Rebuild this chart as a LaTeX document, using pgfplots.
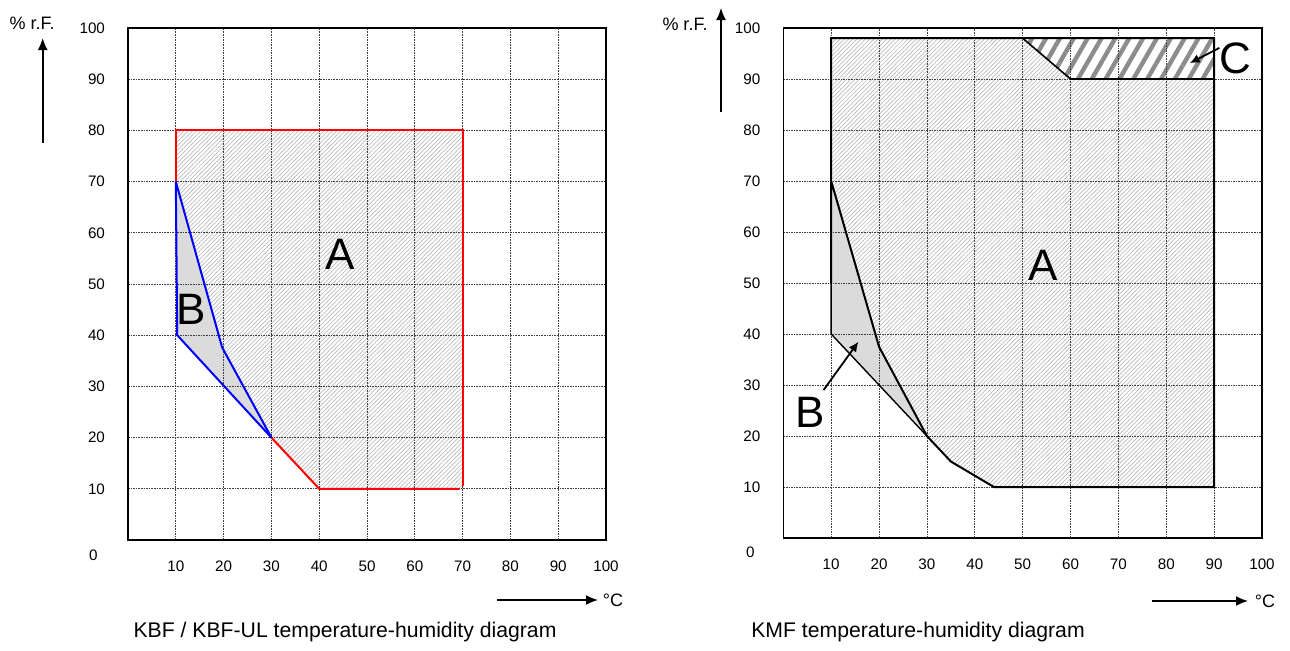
\documentclass[border=0pt]{standalone}
\usepackage{fontspec}
\setmainfont{Liberation Sans}
\usepackage{pgfplots}
\pgfplotsset{compat=1.18}
\usetikzlibrary{patterns.meta,arrows.meta}

\pgfplotsset{
  chartstyle/.style={
    set layers,
    scale only axis,
    xmin=0,xmax=100,ymin=0,ymax=100,
    xtick={10,20,...,100}, ytick={10,20,...,100},
    grid=major,
    grid style={black!75, line width=0.35pt, dash pattern=on 0.8pt off 0.5pt},
    major tick length=0pt,
    axis line style={line width=0.75pt},
    tick label style={font=\fontsize{7.6}{9}\selectfont},
    xticklabel style={yshift=-7pt},
    yticklabel style={xshift=-8pt},
    /pgf/number format/assume math mode=true,
    clip=false,
  },
  finehatch/.style={draw=none, pattern={Lines[angle=45,distance=1.5pt,line width=0.35pt]}, pattern color=black!27},
}

\begin{document}
\begin{tikzpicture}

% ---------- left chart ----------
\begin{axis}[chartstyle, at={(64pt,55pt)}, anchor=south west, width=239pt, height=256pt]
\addplot[finehatch, on layer=axis background] coordinates {(10,80)(70,80)(70,10)(40,10)(30,20)(19.7,37.6)(10,70)} -- cycle;
\addplot[fill=black!14, draw=none, on layer=axis background] coordinates {(10,70)(19.7,37.6)(30,20)(10.3,40)} -- cycle;
\addplot[red, line width=1pt] coordinates {(10,70)(10,80)(70,80)(70,10.6)};
\addplot[red, line width=1pt] coordinates {(30,20)(40,10)(69.4,10)};
\addplot[blue, line width=1pt] coordinates {(10,70)(19.7,37.6)(30,20)};
\addplot[blue, line width=1pt] coordinates {(10,70)(10.3,40)(30,20)};
\node[font=\fontsize{22}{24}\selectfont] at (axis cs:44.3,55.7) {A};
\node[font=\fontsize{22}{24}\selectfont] at (axis cs:13.2,45) {B};
\node[font=\fontsize{7.6}{9}\selectfont, xshift=-17.3pt, yshift=-7.5pt] at (axis cs:0,0) {0};
\end{axis}

% ---------- right chart ----------
\begin{axis}[chartstyle, at={(391.65pt,56pt)}, anchor=south west, width=239.35pt, height=255pt]
\addplot[finehatch, on layer=axis background] coordinates {(10,98)(90,98)(90,10)(44,10)(35,15)(30,20)(20,37.5)(10,70)} -- cycle;
\addplot[fill=white, draw=none, on layer=axis background] coordinates {(50,98)(90,98)(90,90)(60,90)} -- cycle;
\addplot[draw=none, on layer=axis background, pattern={Lines[angle=60,distance=6pt,line width=2.2pt]}, pattern color=black!45] coordinates {(50,98)(90,98)(90,90)(60,90)} -- cycle;
\addplot[fill=black!14, draw=none, on layer=axis background] coordinates {(10,70)(20,37.5)(30,20)(10,40)} -- cycle;
\addplot[black, line width=1pt] coordinates {(10,50)(10,98)(90,98)(90,10)(44,10)(35,15)(30,20)(20,37.5)(10,70)};
\addplot[black, line width=0.7pt] coordinates {(10,70)(10,40)(30,20)};
\addplot[black, line width=0.8pt] coordinates {(50,98)(60,90)(90,90)};
\draw[-{Latex[length=5pt,width=4.5pt]}, line width=0.9pt] (axis cs:8.4,29) -- (axis cs:15.7,38.5);
\draw[-{Latex[length=5pt,width=4.5pt]}, line width=0.9pt] (axis cs:91.1,96.1) -- (axis cs:84.9,93.1);
\node[font=\fontsize{22}{24}\selectfont] at (axis cs:54.2,53.5) {A};
\node[font=\fontsize{22}{24}\selectfont] at (axis cs:5.6,24.7) {B};
\node[font=\fontsize{22}{24}\selectfont] at (axis cs:94.5,94.1) {C};
\node[font=\fontsize{7.6}{9}\selectfont, xshift=-16.5pt, yshift=-7.3pt] at (axis cs:0,0) {0};
\end{axis}

% ---------- axis descriptions ----------
\draw[-{Latex[length=6pt,width=5pt]}, line width=0.8pt] (21.35pt,253.5pt) -- (21.35pt,306pt);
\node[anchor=east, font=\fontsize{9}{10}\selectfont, inner sep=0pt] at (27.5pt,313.5pt) {\% r.F.};
\draw[-{Latex[length=6pt,width=5pt]}, line width=0.8pt] (360.5pt,269pt) -- (360.5pt,321pt);
\node[font=\fontsize{9}{10}\selectfont, inner sep=0pt] at (342.5pt,313pt) {\% r.F.};

\draw[-{Latex[length=6pt,width=5pt]}, line width=0.8pt] (248.5pt,25pt) -- (299pt,25pt);
\node[font=\fontsize{9}{10}\selectfont, inner sep=0pt] at (306.5pt,25pt) {°C};
\draw[-{Latex[length=6pt,width=5pt]}, line width=0.8pt] (576pt,24.5pt) -- (624pt,24.5pt);
\node[font=\fontsize{9}{10}\selectfont, inner sep=0pt] at (632.5pt,24.5pt) {°C};

\node[font=\fontsize{10.6}{12}\selectfont, inner sep=0pt] at (172.5pt,9pt) {KBF / KBF-UL temperature-humidity diagram};
\node[font=\fontsize{10.6}{12}\selectfont, inner sep=0pt] at (459pt,9pt) {KMF temperature-humidity diagram};

\pgfresetboundingbox
\useasboundingbox (0,0) rectangle (645pt,325pt);
\end{tikzpicture}
\end{document}
